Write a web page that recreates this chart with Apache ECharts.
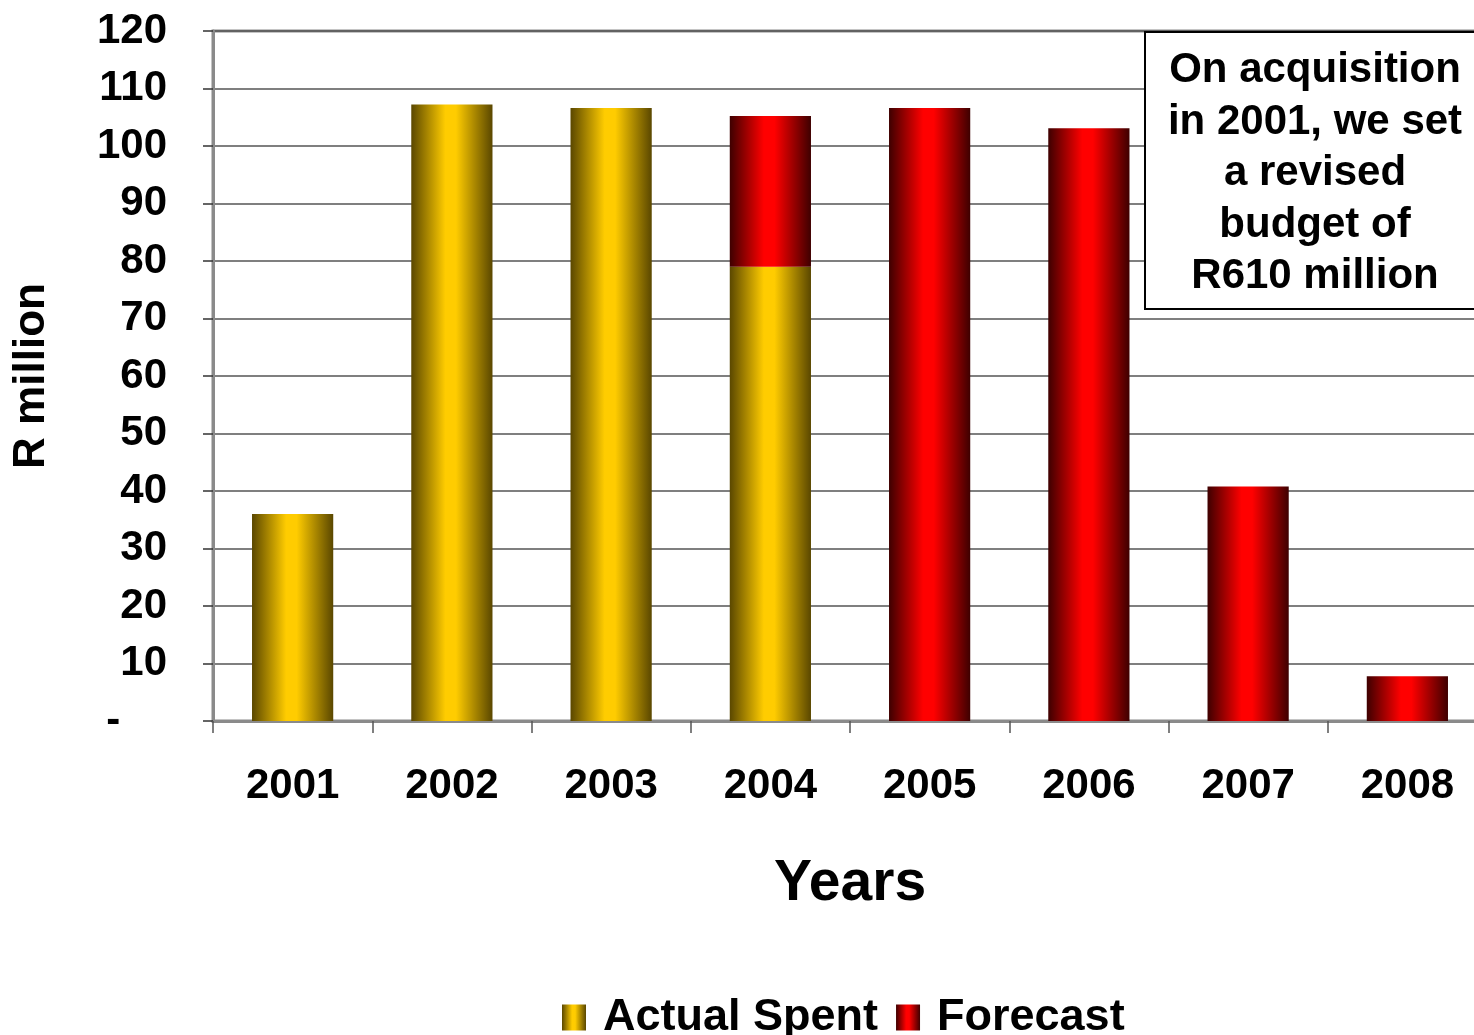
<!DOCTYPE html>
<html>
<head>
<meta charset="utf-8">
<title>R million by year</title>
<script src="https://cdn.jsdelivr.net/npm/echarts@6/dist/echarts.min.js"></script>
<style>
  html, body { margin: 0; padding: 0; background: #fff; }
  #main { width: 1474px; height: 1035px; }
</style>
</head>
<body>
<div id="main"></div>
<script type="text/javascript">
// data
var years = ['2001', '2002', '2003', '2004', '2005', '2006', '2007', '2008'];
var actualSpent = [36, 107.2, 106.6, 79, '-', '-', '-', '-'];
var forecast = ['-', '-', '-', 26.2, 106.6, 103.1, 40.8, 7.8];
var noteLines = ['On acquisition', 'in 2001, we set', 'a revised', 'budget of', 'R610 million'];

var FONT = '"Liberation Sans", Arial, sans-serif';

// horizontal "cylinder" shading, dark at the edges
function shade(edge, mid) {
  return new echarts.graphic.LinearGradient(0, 0, 1, 0, [
    { offset: 0, color: edge },
    { offset: 0.42, color: mid },
    { offset: 0.55, color: mid },
    { offset: 1, color: edge }
  ]);
}

var chart = echarts.init(document.getElementById('main'));

var option = {
  animation: false,
  grid: {
    left: 213, top: 31, bottom: 314, right: -13,
    outerBoundsMode: 'none',
    show: true, borderColor: '#8a8a8a', borderWidth: 3
  },
  legend: {
    left: 557, top: 990,
    icon: 'rect',
    itemWidth: 24, itemHeight: 26, itemGap: 18,
    textStyle: { fontFamily: FONT, fontWeight: 'bold', fontSize: 45, color: '#000', padding: [0, 0, 0, 12] },
    data: ['Actual Spent', 'Forecast']
  },
  xAxis: {
    type: 'category',
    data: years,
    name: 'Years',
    nameLocation: 'middle',
    nameGap: 135,
    nameTextStyle: { fontFamily: FONT, fontWeight: 'bold', fontSize: 57, color: '#000' },
    axisLine: { lineStyle: { color: '#8a8a8a', width: 3 } },
    axisTick: { show: true, length: 12, lineStyle: { color: '#555', width: 1.5 } },
    axisLabel: { margin: 44, fontFamily: FONT, fontWeight: 'bold', fontSize: 42, color: '#000' }
  },
  yAxis: {
    type: 'value',
    min: 0, max: 120, interval: 10,
    name: 'R million',
    nameLocation: 'middle',
    nameGap: 159,
    nameRotate: 90,
    nameTextStyle: { fontFamily: FONT, fontWeight: 'bold', fontSize: 44, color: '#000' },
    axisLine: { show: true, lineStyle: { color: '#8a8a8a', width: 3 } },
    axisTick: { show: true, length: 10, lineStyle: { color: '#333', width: 1.5 } },
    axisLabel: {
      margin: 46, fontFamily: FONT, fontWeight: 'bold', fontSize: 42, color: '#000',
      formatter: function (v) { return v === 0 ? '-    ' : v; }
    },
    splitLine: { lineStyle: { color: '#555', width: 1.5 } }
  },
  series: [
    {
      name: 'Actual Spent', type: 'bar', stack: 'total', barWidth: '51%',
      itemStyle: { color: shade('#5a4700', '#ffcc00') },
      data: actualSpent
    },
    {
      name: 'Forecast', type: 'bar', stack: 'total', barWidth: '51%',
      itemStyle: { color: shade('#3e0000', '#ff0000') },
      data: forecast
    }
  ],
  graphic: [
    {
      type: 'rect', left: 1144, top: 31, z: 100,
      shape: { width: 340, height: 277 },
      style: { fill: '#fff', stroke: '#000', lineWidth: 2 }
    },
    {
      type: 'text', x: 1315, y: 45, z: 101,
      style: {
        text: noteLines.join('\n'),
        fill: '#000', font: 'bold 42px ' + FONT,
        lineHeight: 51.5, align: 'center', verticalAlign: 'top'
      }
    }
  ]
};

chart.setOption(option);
</script>
</body>
</html>
